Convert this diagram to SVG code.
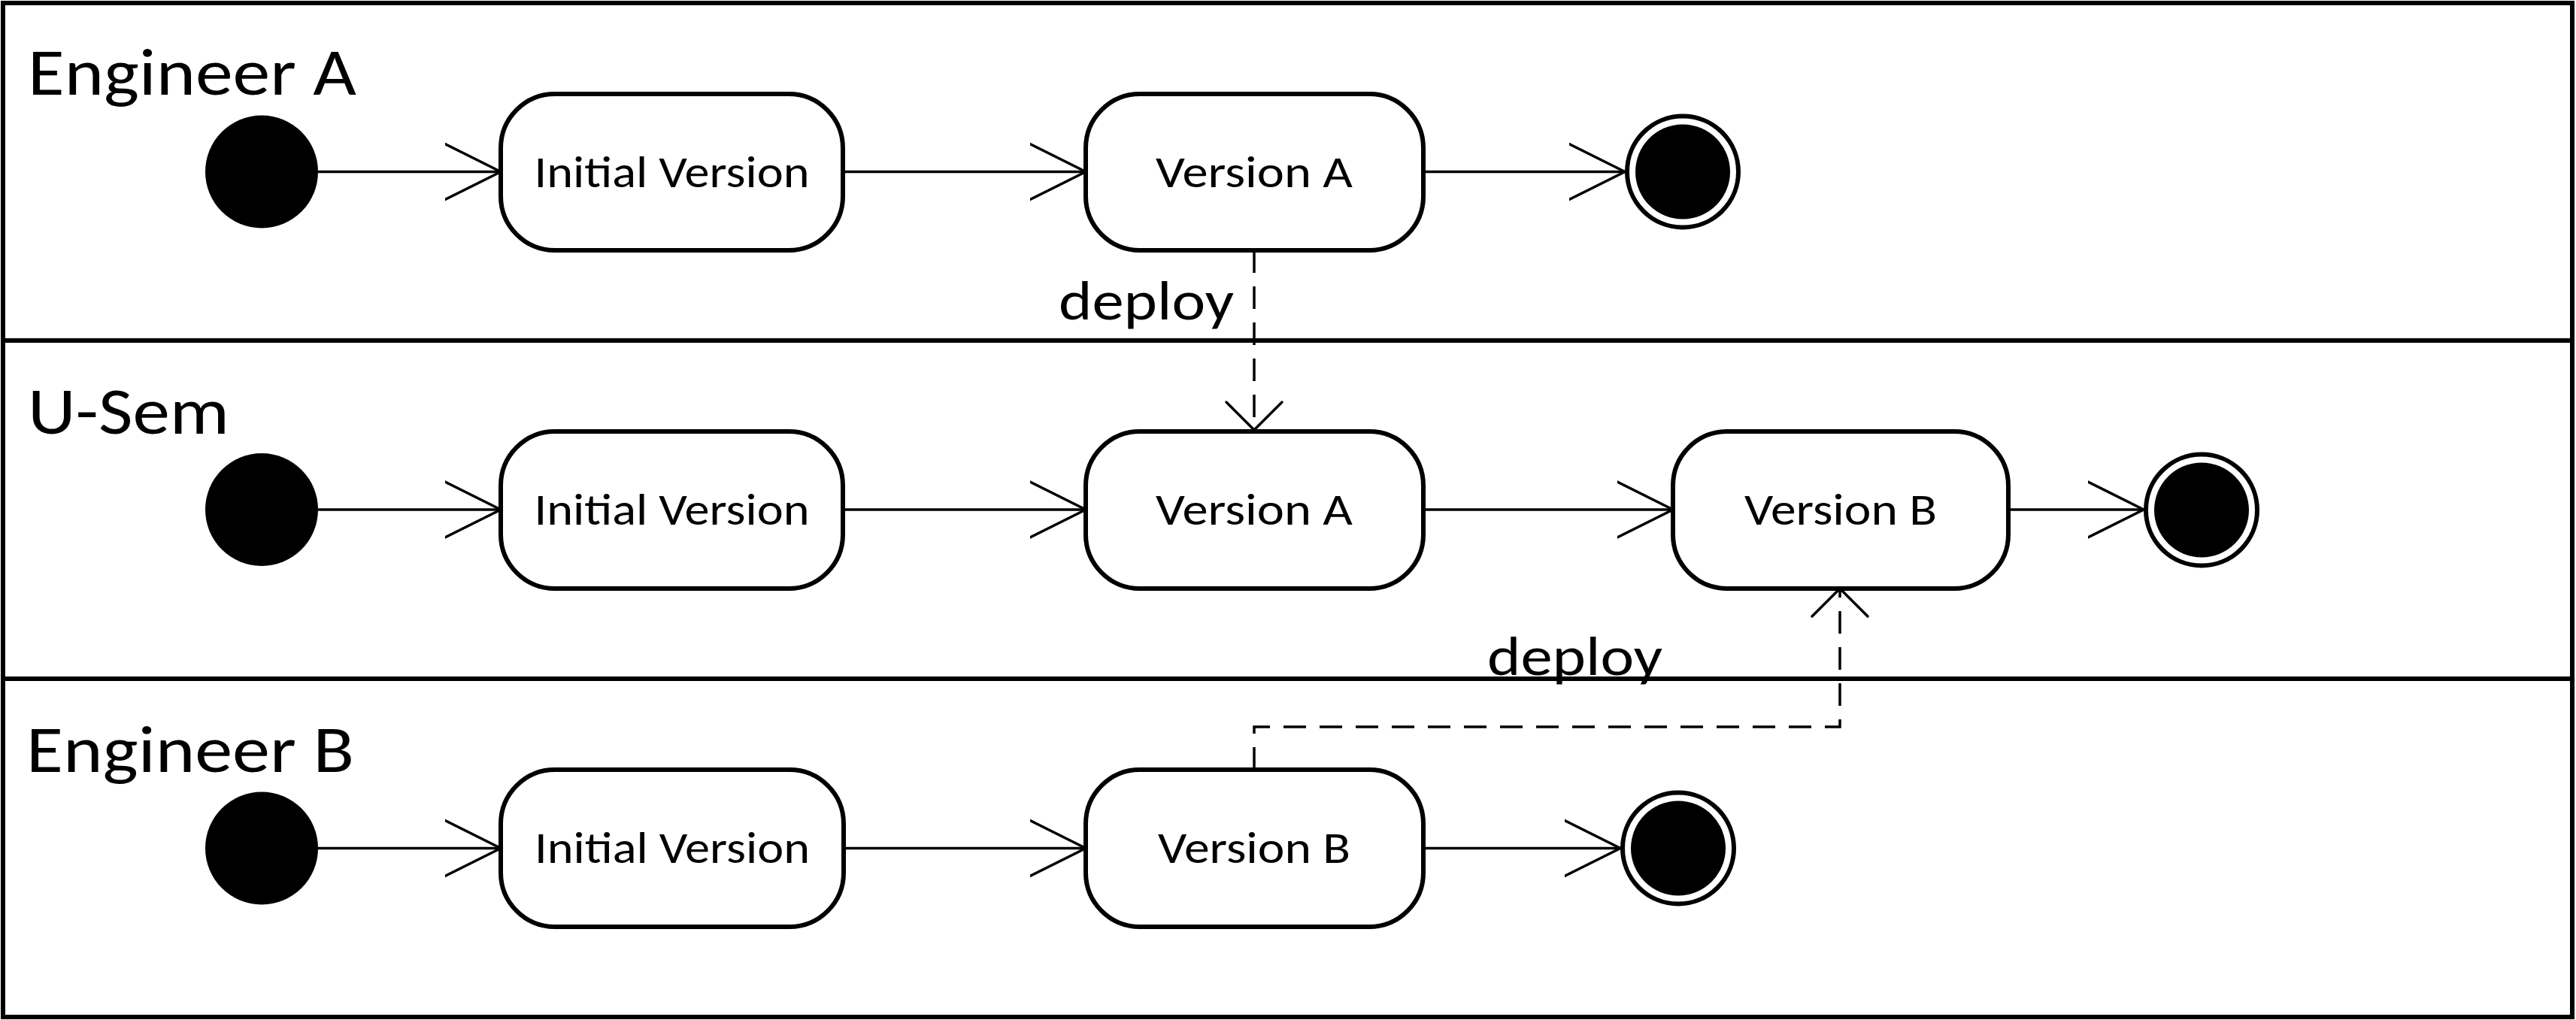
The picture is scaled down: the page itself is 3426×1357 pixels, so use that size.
<svg xmlns="http://www.w3.org/2000/svg" width="3426" height="1357" viewBox="0 0 3426 1357">
<style>
  .lane { fill: none; stroke: #000; stroke-width: 6; }
  .state { fill: #fff; stroke: #000; stroke-width: 6; }
  .init { fill: #000; }
  .finalOuter { fill: #fff; stroke: #000; stroke-width: 6; }
  .finalInner { fill: #000; }
  .flow { fill: none; stroke: #000; stroke-width: 3.5; marker-end: url(#open); }
  .dep { fill: none; stroke: #000; stroke-width: 3.5; stroke-dasharray: 30 18; marker-end: url(#openDash); }
  text { font-family: Carlito, Lato, "Open Sans", sans-serif; fill: #000; }
  .laneLbl { font-size: 88px; }
  .stLbl { font-size: 59px; text-anchor: middle; }
  .depLbl { font-size: 75px; }
</style>
<defs>
  <marker id="open" viewBox="0 0 80 80" markerWidth="80" markerHeight="80" refX="74" refY="40" orient="auto" markerUnits="userSpaceOnUse">
    <path d="M0,3 L74,40 L0,77" fill="none" stroke="#000" stroke-width="3.5" stroke-linecap="round" stroke-linejoin="miter"/>
  </marker>
  <marker id="openDash" viewBox="0 0 80 80" markerWidth="80" markerHeight="80" refX="40" refY="40" orient="auto" markerUnits="userSpaceOnUse">
    <path d="M3,3 L40,40 L3,77" fill="none" stroke="#000" stroke-width="3.5" stroke-linecap="round"/>
  </marker>
</defs>
<rect width="3426" height="1357" fill="#fff"/>
<g id="lanes">
  <rect class="lane" x="4" y="4" width="3417" height="1349"/>
  <line class="lane" x1="4" y1="453" x2="3421" y2="453"/>
  <line class="lane" x1="4" y1="903" x2="3421" y2="903"/>
  <text class="laneLbl" x="37" y="126" textLength="437" lengthAdjust="spacingAndGlyphs">Engineer A</text>
  <text class="laneLbl" x="37" y="577" textLength="268" lengthAdjust="spacingAndGlyphs">U-Sem</text>
  <text class="laneLbl" x="35" y="1027" textLength="436" lengthAdjust="spacingAndGlyphs">Engineer B</text>
</g>
<g id="connectors">
  <path class="flow" d="M423,228.5 H666"/>
  <path class="flow" d="M1121,228.5 H1444"/>
  <path class="flow" d="M1893,228.5 H2161"/>
  <path class="flow" d="M423,678 H666"/>
  <path class="flow" d="M1121,678 H1444"/>
  <path class="flow" d="M1893,678 H2225"/>
  <path class="flow" d="M2671,678 H2851"/>
  <path class="flow" d="M423,1128.5 H666"/>
  <path class="flow" d="M1122,1128.5 H1444"/>
  <path class="flow" d="M1893,1128.5 H2155"/>
  <path class="dep" d="M1668,333 V572"/>
  <path class="dep" d="M1668,1024 V967 H2447 V783"/>
  <text class="depLbl" x="1408" y="425" textLength="233" lengthAdjust="spacingAndGlyphs">deploy</text>
  <text class="depLbl" x="1978" y="898" textLength="233" lengthAdjust="spacingAndGlyphs">deploy</text>
</g>
<g id="a-start"><circle class="init" cx="348" cy="228.5" r="75"/></g>
<g id="a-initial"><rect class="state" x="666" y="125" width="455" height="208" rx="72" ry="72"/><text class="stLbl" x="893.5" y="249" textLength="366" lengthAdjust="spacingAndGlyphs">Initial Version</text></g>
<g id="a-versionA"><rect class="state" x="1444" y="125" width="449" height="208" rx="72" ry="72"/><text class="stLbl" x="1668" y="249" textLength="262" lengthAdjust="spacingAndGlyphs">Version A</text></g>
<g id="a-end"><circle class="finalOuter" cx="2238" cy="228.5" r="74"/><circle class="finalInner" cx="2238" cy="228.5" r="63"/></g>
<g id="u-start"><circle class="init" cx="348" cy="678" r="75"/></g>
<g id="u-initial"><rect class="state" x="666" y="574" width="455" height="209" rx="72" ry="72"/><text class="stLbl" x="893.5" y="698" textLength="366" lengthAdjust="spacingAndGlyphs">Initial Version</text></g>
<g id="u-versionA"><rect class="state" x="1444" y="574" width="449" height="209" rx="72" ry="72"/><text class="stLbl" x="1668" y="698" textLength="262" lengthAdjust="spacingAndGlyphs">Version A</text></g>
<g id="u-versionB"><rect class="state" x="2225" y="574" width="446" height="209" rx="72" ry="72"/><text class="stLbl" x="2448" y="698" textLength="256" lengthAdjust="spacingAndGlyphs">Version B</text></g>
<g id="u-end"><circle class="finalOuter" cx="2928" cy="678.5" r="74"/><circle class="finalInner" cx="2928" cy="678.5" r="63"/></g>
<g id="b-start"><circle class="init" cx="348" cy="1128.5" r="75"/></g>
<g id="b-initial"><rect class="state" x="666" y="1024" width="456" height="209" rx="72" ry="72"/><text class="stLbl" x="894" y="1148" textLength="366" lengthAdjust="spacingAndGlyphs">Initial Version</text></g>
<g id="b-versionB"><rect class="state" x="1444" y="1024" width="449" height="209" rx="72" ry="72"/><text class="stLbl" x="1668" y="1148" textLength="256" lengthAdjust="spacingAndGlyphs">Version B</text></g>
<g id="b-end"><circle class="finalOuter" cx="2232" cy="1128.5" r="74"/><circle class="finalInner" cx="2232" cy="1128.5" r="63"/></g>
</svg>
